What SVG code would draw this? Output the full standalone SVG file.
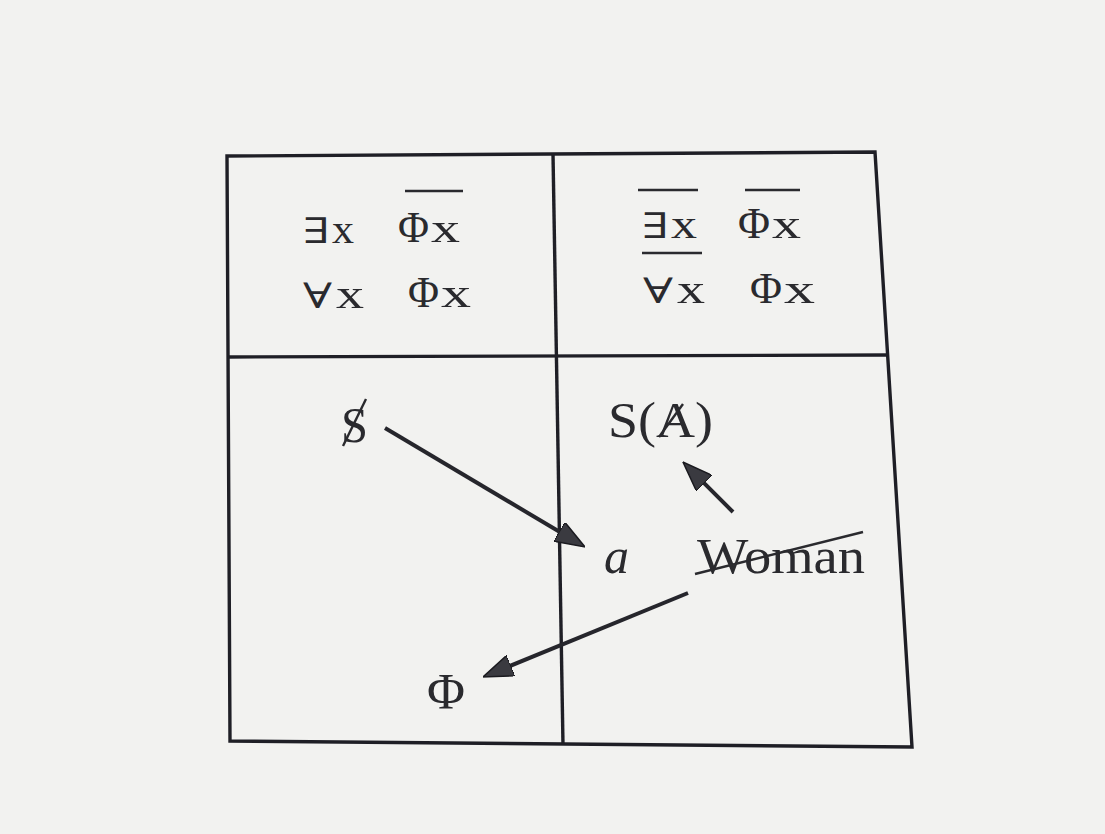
<svg xmlns="http://www.w3.org/2000/svg" width="1105" height="834" viewBox="0 0 1105 834">
  <defs>
    <style>
      .frame { fill: none; stroke: #1f1f26; stroke-width: 3.4; stroke-linejoin: miter; }
      .t { font-family: "Liberation Serif", "DejaVu Serif", serif; fill: #2a2a2e; }
      .q { font-family: "DejaVu Serif", "Liberation Serif", serif; font-size: 35px; fill: #2a2a2e; }
      .x { font-size: 43px; }
      .ph { font-size: 45px; }
      .low { font-size: 50px; }
      .bar { stroke: #2a2a2e; stroke-width: 2.6; }
      .slash { stroke: #2a2a2e; stroke-width: 2.4; }
      .conn { stroke: #26262c; stroke-width: 4; fill: none; }
    </style>
    <marker id="head" viewBox="0 0 30 22" refX="15" refY="11" markerWidth="30" markerHeight="22" markerUnits="userSpaceOnUse" orient="auto">
      <path d="M0,0 L30,11 L0,22 Z" fill="#3a3a40" stroke="#1a1a1f" stroke-width="1.5"/>
    </marker>
  </defs>

  <rect x="0" y="0" width="1105" height="834" fill="#f2f2f0"/>

  <g id="frame">
    <polygon points="227,156 875,152 912,747 230,741" fill="#f9f9f8" class="frame"/>
    <line x1="228" y1="357" x2="888" y2="355" class="frame"/>
    <line x1="553" y1="154" x2="563" y2="745" class="frame"/>
  </g>

  <g id="top-left">
    <text class="q" x="303" y="243" textLength="27" lengthAdjust="spacingAndGlyphs">∃</text>
    <text class="t x" x="332" y="243" textLength="22" lengthAdjust="spacingAndGlyphs">x</text>
    <text class="t ph" x="398" y="242" textLength="31" lengthAdjust="spacingAndGlyphs">Φ</text>
    <text class="t x" x="431" y="242" textLength="29" lengthAdjust="spacingAndGlyphs">x</text>
    <line class="bar" x1="405" y1="191" x2="463" y2="191"/>
    <text class="q" x="303" y="308" textLength="29" lengthAdjust="spacingAndGlyphs">∀</text>
    <text class="t x" x="336" y="308" textLength="28" lengthAdjust="spacingAndGlyphs">x</text>
    <text class="t ph" x="408" y="307" textLength="31" lengthAdjust="spacingAndGlyphs">Φ</text>
    <text class="t x" x="441" y="307" textLength="30" lengthAdjust="spacingAndGlyphs">x</text>
  </g>

  <g id="top-right">
    <text class="q" x="642" y="238" textLength="27" lengthAdjust="spacingAndGlyphs">∃</text>
    <text class="t x" x="671" y="238" textLength="26" lengthAdjust="spacingAndGlyphs">x</text>
    <line class="bar" x1="638" y1="190" x2="698" y2="190"/>
    <text class="t ph" x="738" y="238" textLength="32" lengthAdjust="spacingAndGlyphs">Φ</text>
    <text class="t x" x="772" y="238" textLength="29" lengthAdjust="spacingAndGlyphs">x</text>
    <line class="bar" x1="745" y1="190" x2="800" y2="190"/>
    <text class="q" x="643" y="303" textLength="30" lengthAdjust="spacingAndGlyphs">∀</text>
    <text class="t x" x="677" y="303" textLength="28" lengthAdjust="spacingAndGlyphs">x</text>
    <line class="bar" x1="642" y1="253" x2="702" y2="253"/>
    <text class="t ph" x="750" y="303" textLength="32" lengthAdjust="spacingAndGlyphs">Φ</text>
    <text class="t x" x="784" y="303" textLength="31" lengthAdjust="spacingAndGlyphs">x</text>
  </g>

  <g id="barred-S">
    <text class="t low" x="341" y="442" textLength="27" lengthAdjust="spacingAndGlyphs">S</text>
    <line class="slash" x1="366" y1="399" x2="343" y2="446"/>
  </g>

  <g id="S-barred-A">
    <text class="t low" x="608" y="437" textLength="105" lengthAdjust="spacingAndGlyphs">S(A)</text>
    <line class="slash" x1="659" y1="437" x2="683" y2="404"/>
  </g>

  <g id="a">
    <text class="t low" x="604" y="573" font-style="italic" font-size="52">a</text>
  </g>

  <g id="Woman">
    <text class="t low" x="697" y="573" textLength="168" lengthAdjust="spacingAndGlyphs">Woman</text>
    <line class="slash" x1="695" y1="574" x2="863" y2="532"/>
  </g>

  <g id="Phi">
    <text class="t low" x="427" y="708" font-size="46" textLength="38" lengthAdjust="spacingAndGlyphs">Φ</text>
  </g>

  <g id="connectors">
    <line class="conn" x1="385" y1="428" x2="572.1" y2="539.3" marker-end="url(#head)"/>
    <line class="conn" x1="733" y1="512" x2="693.6" y2="472.6" marker-end="url(#head)"/>
    <line class="conn" x1="688" y1="593" x2="496.9" y2="671.3" marker-end="url(#head)"/>
  </g>
</svg>
